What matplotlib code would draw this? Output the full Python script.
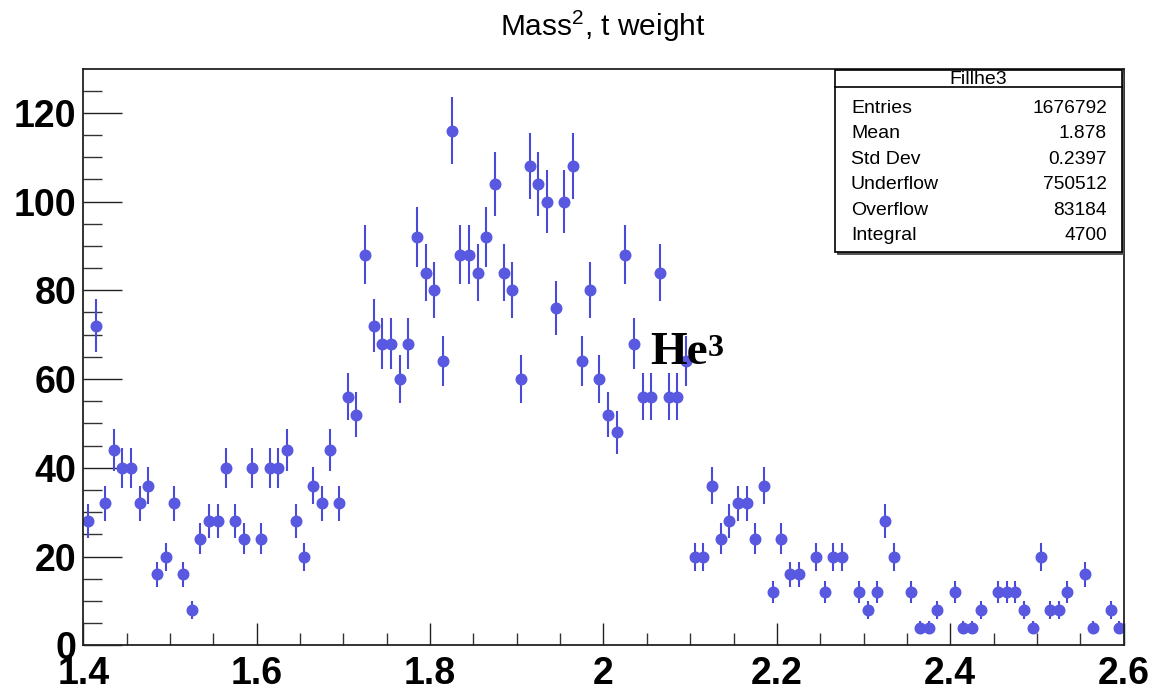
# squared mass spectrum for the He3 selection, t-weighted, drawn ROOT style
import numpy as np
import matplotlib
matplotlib.use("Agg")
import matplotlib.pyplot as plt
from matplotlib.patches import Rectangle
from matplotlib.ticker import MultipleLocator

# histogram: 120 bins of 0.01 between 1.4 and 2.6
bin_lo, bin_hi, n_bins = 1.4, 2.6, 120
counts = [
    28, 72, 32, 44, 40, 40, 32, 36, 16, 20,
    32, 16, 8, 24, 28, 28, 40, 28, 24, 40,
    24, 40, 40, 44, 28, 20, 36, 32, 44, 32,
    56, 52, 88, 72, 68, 68, 60, 68, 92, 84,
    80, 64, 116, 88, 88, 84, 92, 104, 84, 80,
    60, 108, 104, 100, 76, 100, 108, 64, 80, 60,
    52, 48, 88, 68, 56, 56, 84, 56, 56, 64,
    20, 20, 36, 24, 28, 32, 32, 24, 36, 12,
    24, 16, 16, 0, 20, 12, 20, 20, 0, 12,
    8, 12, 28, 20, 0, 12, 4, 4, 8, 0,
    12, 4, 4, 8, 0, 12, 12, 12, 8, 4,
    20, 8, 8, 12, 0, 16, 4, 0, 8, 4,
]
weight = 0.5  # per-entry weight used when filling

stat_names = ["Entries", "Mean", "Std Dev", "Underflow", "Overflow", "Integral"]
stat_values = ["1676792", "1.878", "0.2397", "750512", "83184", "4700"]

plt.rcParams["mathtext.fontset"] = "custom"
plt.rcParams["mathtext.rm"] = "Liberation Sans"
plt.rcParams["mathtext.it"] = "Liberation Sans"

W, H = 1176, 696
fig = plt.figure(figsize=(W / 100, H / 100), dpi=100)

def fx(px):
    return px / W

def fy(py):
    return 1 - py / H

ax = fig.add_axes([fx(83.3), fy(645.3), fx(1123.7) - fx(83.3), fy(69.3) - fy(645.3)])

edges = np.linspace(bin_lo, bin_hi, n_bins + 1)
centers = 0.5 * (edges[:-1] + edges[1:])
y = np.array(counts, dtype=float)
yerr = np.sqrt(y * weight)  # sqrt(sum w^2)
keep = y > 0

blue = "#5858e0"
ax.errorbar(centers[keep], y[keep], yerr=yerr[keep], fmt="o", color=blue,
            ecolor="#4a4ad8", elinewidth=1.5, markersize=7.6, capsize=0)

ax.set_xlim(bin_lo, bin_hi)
ax.set_ylim(0, 129.8)

# ticks only on left and bottom, pointing inward
ax.xaxis.set_major_locator(MultipleLocator(0.2))
ax.xaxis.set_minor_locator(MultipleLocator(0.05))
ax.yaxis.set_major_locator(MultipleLocator(20))
ax.yaxis.set_minor_locator(MultipleLocator(5))
ax.tick_params(axis="y", which="major", direction="in", length=28, width=1, color="#222222", pad=5)
ax.tick_params(axis="y", which="minor", direction="in", length=14, width=1, color="#333333")
ax.tick_params(axis="x", which="major", direction="in", length=16, width=1, color="#222222", pad=8)
ax.tick_params(axis="x", which="minor", direction="in", length=9, width=1, color="#333333")

ax.set_xticks(np.arange(1.4, 2.61, 0.2))
ax.set_xticklabels(["1.4", "1.6", "1.8", "2", "2.2", "2.4", "2.6"])
tick_font = dict(family=["Liberation Sans Narrow", "Liberation Sans"], weight="bold", size=27)
for lbl in ax.get_xticklabels() + ax.get_yticklabels():
    lbl.set_fontproperties(matplotlib.font_manager.FontProperties(**tick_font))

for side in ["left", "bottom", "right", "top"]:
    ax.spines[side].set_linewidth(1.3)
    ax.spines[side].set_color("#222222")

fig.text(fx(603), fy(26), r"Mass$^{2}$, t weight", ha="center", va="center",
         family="Liberation Sans", size=21.5)

# He3 label
he = ax.text(2.0535, 63.4, "He", family="Liberation Serif", weight="bold", size=34,
             ha="left", va="baseline")
ax.annotate("3", xy=(1.0, 0.95), xycoords=he, ha="left", va="top",
            family="Liberation Serif", weight="bold", size=23)

# statistics box
box_l, box_r, box_t, box_b, box_sep = 835, 1122, 70, 252, 87
fig.patches.append(Rectangle((fx(box_l + 2), fy(box_b + 3)), fx(box_r) - fx(box_l), fy(box_t) - fy(box_b),
                             transform=fig.transFigure, facecolor="#555555", edgecolor="none", zorder=4))
fig.patches.append(Rectangle((fx(box_l), fy(box_b)), fx(box_r) - fx(box_l), fy(box_t) - fy(box_b),
                             transform=fig.transFigure, facecolor="white", edgecolor="black",
                             linewidth=1.2, zorder=5))
fig.add_artist(plt.Line2D([fx(box_l), fx(box_r)], [fy(box_sep), fy(box_sep)],
                          transform=fig.transFigure, color="black", linewidth=1.2, zorder=6))
fig.text(fx((box_l + box_r) / 2), fy(79), "Fillhe3", ha="center", va="center",
         family="Liberation Sans", size=14, zorder=7)
for i, (name, val) in enumerate(zip(stat_names, stat_values)):
    ypos = fy(108.3 + i * 25.5)
    fig.text(fx(851), ypos, name, ha="left", va="center", family="Liberation Sans", size=14, zorder=7)
    fig.text(fx(1107), ypos, val, ha="right", va="center", family="Liberation Sans", size=13.8, zorder=7)

fig.savefig("out.png", dpi=100)
